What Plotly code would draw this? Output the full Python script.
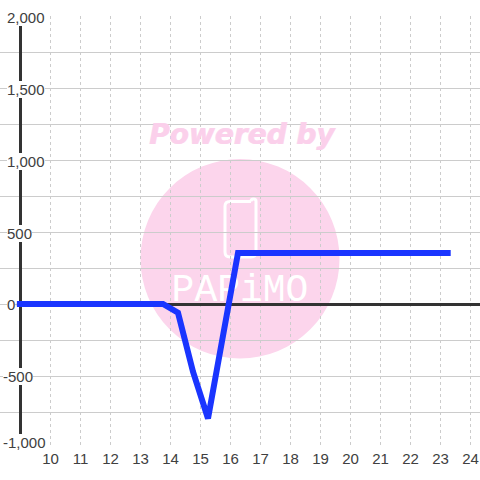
import plotly.graph_objects as go

hours = [8.88, 13.75, 14.25, 14.75, 15.25, 15.75, 16.25, 23.34]
balance = [0, 0, -60, -470, -795, -220, 355, 355]
x_ticks = list(range(10, 25))
y_labels = [2000, 1500, 1000, 500, 0, -500, -1000]

W, H = 480, 480
L, R, T, B = 0, 0, 16, 32
UNIT = 30.0
X_RANGE = [10 - 50.5 / UNIT, 10 + (480 - 50.5) / UNIT]
Y_RANGE = [-1000, 2000]
TEXT = "#404040"
GRID = "#cccccc"
DARK = "#333333"
BLUE = "#1a35ff"
PINK = "#fcd5ec"
WATERMARK = "rgba(251,208,235,0.85)"


def dx(xp):
    return 10 + (xp - 50.5) / UNIT


def py(yp):
    return 1 - (yp - T) / (H - T - B)


def px(xp):
    return xp / W


fig = go.Figure()
fig.add_trace(go.Scatter(x=[dx(242)], y=[1160], mode="text", text=["Powered by"],
                         textfont=dict(family="DejaVu Sans", size=28, color=WATERMARK,
                                       weight="bold", style="italic",
                                       shadow=f"0.6px 0 0 {WATERMARK}, -0.6px 0 0 {WATERMARK}"),
                         hoverinfo="skip"))
fig.add_trace(go.Scatter(x=[dx(240)], y=[85], mode="text", text=["PAPiMO"],
                         textfont=dict(family="Liberation Mono", size=38, color="#ffffff"),
                         hoverinfo="skip"))
fig.add_trace(go.Scatter(x=[8.88, X_RANGE[1]], y=[-3.5, -3.5], mode="lines",
                         line=dict(color=DARK, width=3), hoverinfo="skip"))
fig.add_trace(go.Scatter(x=[9, 9], y=[1944, -917], mode="lines",
                         line=dict(color=DARK, width=3), hoverinfo="skip"))
fig.add_trace(go.Scatter(x=hours, y=balance, mode="lines",
                         line=dict(color=BLUE, width=6)))

shapes = [
    dict(type="circle", xref="paper", yref="paper", layer="below",
         x0=px(140.5), x1=px(339.5), y0=py(358.5), y1=py(159),
         fillcolor=PINK, line=dict(width=0)),
    dict(type="rect", xref="paper", yref="paper", layer="between",
         x0=0, x1=px(45), y0=-0.01, y1=1.01, fillcolor="#ffffff", line=dict(width=0)),
    dict(type="path", xref="paper", yref="paper", layer="between",
         path=(f"M {px(251)} {py(201.5)} L {px(230)} {py(201.5)} Q {px(225)} {py(201.5)} {px(225)} {py(206)} "
               f"L {px(225)} {py(252)} Q {px(225)} {py(257)} {px(230)} {py(257)} "
               f"L {px(251)} {py(257)} Q {px(256)} {py(257)} {px(256)} {py(252)} "
               f"L {px(256)} {py(201)} Q {px(256)} {py(199)} {px(253.5)} {py(199)} "
               f"Q {px(251)} {py(199)} {px(251)} {py(201.5)}"),
         line=dict(color="#ffffff", width=3)),
]

annotations = []
for v in y_labels:
    shift = 6 if v == -1000 else (-1 if v > 0 else 0)
    annotations.append(dict(
        xref="x", yref="y", x=dx(2.5 if v < 0 else 7), y=v, xanchor="left", yanchor="middle",
        text=f"{v:,}", showarrow=False, yshift=shift, bgcolor="#ffffff", borderpad=0, borderwidth=0,
        font=dict(family="Liberation Sans", size=15, color=TEXT),
    ))

fig.update_layout(
    width=W, height=H, autosize=False, showlegend=False,
    margin=dict(l=L, r=R, t=T, b=B, pad=0),
    paper_bgcolor="#ffffff", plot_bgcolor="rgba(0,0,0,0)",
    shapes=shapes, annotations=annotations,
    xaxis=dict(range=X_RANGE, tickmode="array", tickvals=x_ticks, ticktext=[str(t) for t in x_ticks],
               showgrid=True, gridcolor=GRID, griddash="dot", gridwidth=1, zeroline=False, showline=False,
               ticks="", tickfont=dict(family="Liberation Sans", size=15, color=TEXT)),
    yaxis=dict(range=Y_RANGE, tickmode="linear", tick0=-1000, dtick=250, showticklabels=False,
               showgrid=True, gridcolor=GRID, gridwidth=1, zeroline=False, showline=False, ticks=""),
)
fig.write_html("out.html", config=dict(displayModeBar=False),
               post_script="document.body.style.margin='0';document.documentElement.style.overflow='hidden';")
